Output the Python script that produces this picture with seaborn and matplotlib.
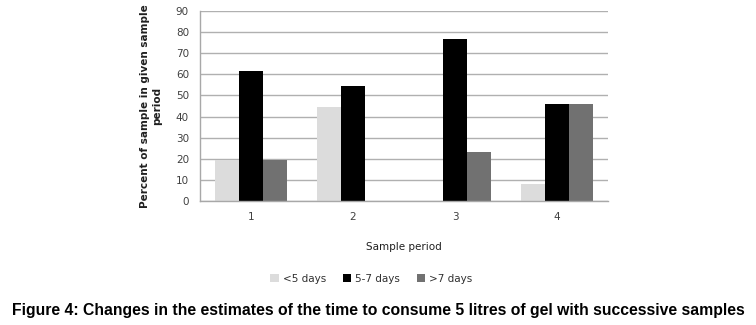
import pandas as pd
import seaborn as sns
import matplotlib.pyplot as plt

# data
periods = ['1', '2', '3', '4']
groups = ['<5 days', '5-7 days', '>7 days']
under_5 = [19.2, 44.6, 0, 8.2]
from_5_to_7 = [61.6, 54.6, 76.8, 45.8]
over_7 = [19.2, 0, 23.1, 45.8]
colores = ['#dcdcdc', '#000000', '#717171']

df = pd.DataFrame({
    'period': periods * 3,
    'grupo': [groups[0]] * 4 + [groups[1]] * 4 + [groups[2]] * 4,
    'pct': under_5 + from_5_to_7 + over_7,
})

sns.set_style('white')
plt.rcParams['font.family'] = ['DejaVu Sans']

fig = plt.figure(figsize=(7.56, 3.25), dpi=100)
ax = fig.add_axes([0.2646, 0.3815, 0.5396, 0.5845])

sns.barplot(data=df, x='period', y='pct', hue='grupo', palette=colores,
            width=0.7, saturation=1, linewidth=0, ax=ax, legend=True)

ax.set_ylim(0, 90)
ax.set_xlim(-0.5, 3.5)
ax.set_yticks(range(0, 91, 10))
ax.yaxis.grid(True, color='#b0b0b0', linewidth=1)
ax.set_axisbelow(True)
for s in ['top', 'right']:
    ax.spines[s].set_visible(False)
for s in ['left', 'bottom']:
    ax.spines[s].set_color('#a8a8a8')
    ax.spines[s].set_linewidth(1)

ax.set_xticks([-0.5, 0.5, 1.5, 2.5, 3.5], minor=True)
ax.tick_params(axis='x', which='major', length=0, labelsize=7.5, labelcolor='#404040', pad=8)
ax.tick_params(axis='x', which='minor', length=4, color='#a8a8a8', direction='out')
ax.tick_params(axis='y', length=4, color='#a8a8a8', labelsize=7.5, labelcolor='#404040', pad=4)

ax.set_xlabel('Sample period', fontsize=7.5, color='#202020', labelpad=14)
ax.set_ylabel('Percent of sample in given sample\nperiod', fontsize=7.5,
              fontweight='bold', color='#202020', labelpad=10)

ax.legend(loc='center', bbox_to_anchor=(0.42, -0.41), ncol=3, frameon=False,
          fontsize=7.5, handlelength=0.8, handleheight=0.8, handletextpad=0.4,
          columnspacing=1.6, labelcolor='#303030')

fig.text(0.5, 0.045, 'Figure 4: Changes in the estimates of the time to consume 5 litres of gel with successive samples',
         ha='center', va='center', fontsize=11.3, fontweight='bold', family='Liberation Sans', color='black')

fig.savefig('out.png', dpi=100)
